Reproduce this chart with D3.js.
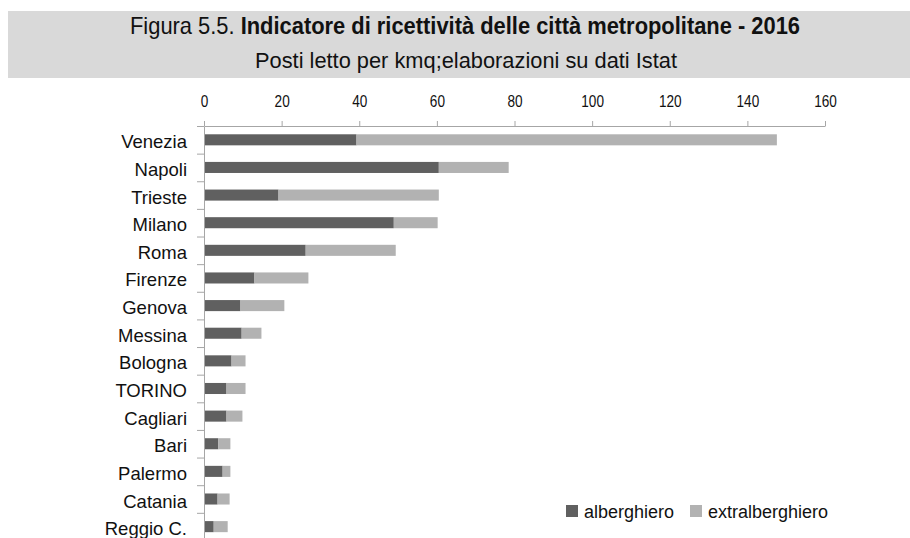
<html>
  <head>
    <meta charset="utf-8">
    <title>Indicatore di ricettività delle città metropolitane - 2016</title>
    <style>
      body { margin: 0; background: #fff; }
      .narrow { font-family: "Liberation Sans Narrow", "Arial Narrow", "Liberation Sans", sans-serif; }
      .wide { font-family: "Liberation Sans", Arial, sans-serif; }
    </style>
  </head>
  <body>
    <div id="vis"></div>

    <script src="https://d3js.org/d3.v7.min.js"></script>
    <script>
      // dati: posti letto per kmq
      const cities = ['Venezia', 'Napoli', 'Trieste', 'Milano', 'Roma', 'Firenze', 'Genova', 'Messina',
                      'Bologna', 'TORINO', 'Cagliari', 'Bari', 'Palermo', 'Catania', 'Reggio C.']
      const alberghiero =    [39.3, 60.5, 19.2, 48.9, 26.2, 13.0, 9.4, 9.7, 7.1, 5.8, 5.8, 3.7, 4.8, 3.5, 2.5]
      const extralberghiero = [108.3, 18.0, 41.3, 11.3, 23.2, 13.9, 11.3, 5.1, 3.6, 4.9, 4.1, 3.1, 2.0, 3.1, 3.6]
      const seriesNames = ['alberghiero', 'extralberghiero']
      const seriesColors = ['#606060', '#b2b2b2']
      const xTicks = [0, 20, 40, 60, 80, 100, 120, 140, 160]

      const W = 910, H = 538
      const svg = d3.select('#vis').append('svg')
              .attr('width', W)
              .attr('height', H)

      // intestazione grigia
      svg.append('rect')
              .attr('x', 8).attr('y', 11)
              .attr('width', W - 8).attr('height', 67)
              .attr('fill', '#d9d9d9')

      const t1 = svg.append('text')
              .attr('class', 'narrow')
              .attr('x', 465).attr('y', 34)
              .attr('text-anchor', 'middle')
              .attr('font-size', 24)
              .attr('fill', '#111')
              .attr('textLength', 670)
              .attr('lengthAdjust', 'spacingAndGlyphs')
      t1.append('tspan').text('Figura 5.5. ')
      t1.append('tspan').attr('font-weight', 'bold').text('Indicatore di ricettività delle città metropolitane - 2016')

      svg.append('text')
              .attr('class', 'narrow')
              .attr('x', 466).attr('y', 68)
              .attr('text-anchor', 'middle')
              .attr('font-size', 22)
              .attr('fill', '#111')
              .attr('textLength', 422)
              .attr('lengthAdjust', 'spacingAndGlyphs')
              .text('Posti letto per kmq;elaborazioni su dati Istat')

      // scale
      const TOP = 126
      const STEP = 27.63
      const x = d3.scaleLinear().domain([0, 160]).range([204, 825])
      const y = d3.scaleBand().domain(cities)
              .range([TOP, TOP + STEP * cities.length])
              .paddingInner(0.6).paddingOuter(0.3)

      // barre impilate
      const rows = cities.map((c, i) => ({ city: c, alberghiero: alberghiero[i], extralberghiero: extralberghiero[i] }))
      const stacked = d3.stack().keys(seriesNames)(rows)
      svg.append('g')
              .selectAll('g')
              .data(stacked)
              .join('g')
              .attr('fill', (d, i) => seriesColors[i])
              .selectAll('rect')
              .data(d => d)
              .join('rect')
              .attr('x', d => x(d[0]))
              .attr('y', d => y(d.data.city))
              .attr('width', d => x(d[1]) - x(d[0]))
              .attr('height', y.bandwidth())

      // asse X in alto
      svg.append('g')
              .attr('transform', `translate(0, ${TOP})`)
              .call(d3.axisTop(x).tickValues(xTicks).tickSize(5).tickPadding(14).tickSizeOuter(0))
              .call(g => g.selectAll('line, path').attr('stroke', '#a6a6a6'))
              .call(g => g.selectAll('text')
                      .attr('class', 'narrow')
                      .attr('font-size', 17)
                      .attr('fill', '#111')
                      .attr('transform', 'scale(0.8,1)'))

      // asse Y: tacche ai confini delle categorie
      const yb = d3.scaleLinear().domain([0, cities.length]).range([TOP, TOP + STEP * cities.length])
      svg.append('g')
              .attr('transform', `translate(${x(0)}, 0)`)
              .call(d3.axisLeft(yb).ticks(cities.length).tickSize(7).tickSizeOuter(0).tickFormat(''))
              .call(g => g.selectAll('line, path').attr('stroke', '#a6a6a6'))

      // etichette città
      svg.append('g')
              .selectAll('text')
              .data(cities)
              .join('text')
              .attr('class', 'wide')
              .attr('x', 187)
              .attr('y', d => y(d) + y.bandwidth() / 2 + 8.5)
              .attr('text-anchor', 'end')
              .attr('font-size', 18.5)
              .attr('fill', '#111')
              .text(d => d)

      // legenda
      const legendX = [566, 690]
      const legend = svg.append('g')
              .selectAll('g')
              .data(seriesNames)
              .join('g')
              .attr('transform', (d, i) => `translate(${legendX[i]}, 505)`)
      legend.append('rect')
              .attr('width', 12).attr('height', 12)
              .attr('fill', (d, i) => seriesColors[i])
      legend.append('text')
              .attr('class', 'wide')
              .attr('x', 18).attr('y', 12.5)
              .attr('font-size', 18)
              .attr('fill', '#111')
              .text(d => d)
    </script>
  </body>
</html>
